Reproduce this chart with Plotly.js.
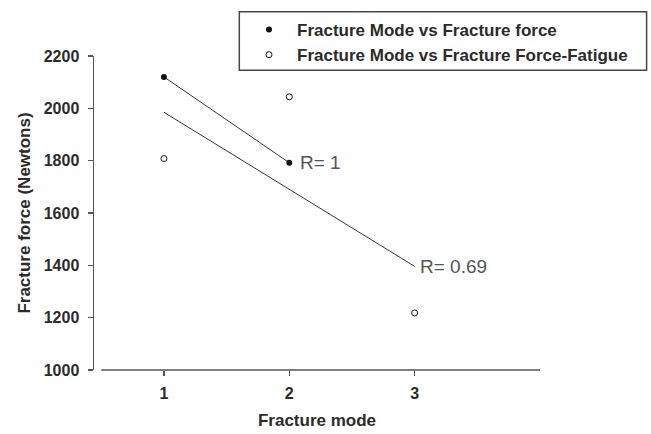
<!DOCTYPE html>
<html>
<head>
<meta charset="utf-8">
<script src="https://cdn.plot.ly/plotly-3.0.1.min.js"></script>
<style>html,body{margin:0;padding:0;background:#fff;}#chart{width:651px;height:434px;}</style>
</head>
<body>
<div id="chart"></div>
<script>
// Data
const modeTicks = [1, 2, 3];
const forceModes = [1, 2];
const forceValues = [2120, 1792];          // Fracture Mode vs Fracture force
const fatigueModes = [1, 2, 3];
const fatigueValues = [1808, 2044, 1218];  // Fracture Mode vs Fracture Force-Fatigue
const fitModes = [1, 3];
const fitValues = [1985, 1396];            // regression line of fatigue data
const rLabels = ['R= 1', 'R= 0.69'];
const seriesNames = ['Fracture Mode vs Fracture force', 'Fracture Mode vs Fracture Force-Fatigue'];

const FONT = 'Liberation Sans, Arial, sans-serif';
const dark = '#2b2b2b';
const axisCol = '#555';

const traces = [
  {x: forceModes, y: forceValues, mode: 'lines', line: {color: '#333', width: 1}, showlegend: false, hoverinfo: 'skip'},
  {x: fitModes, y: fitValues, mode: 'lines', line: {color: '#333', width: 1}, showlegend: false, hoverinfo: 'skip'},
  {x: forceModes, y: forceValues, mode: 'markers', name: seriesNames[0],
   marker: {symbol: 'circle', size: 6, color: '#111', line: {width: 0}}},
  {x: fatigueModes, y: fatigueValues, mode: 'markers', name: seriesNames[1],
   marker: {symbol: 'circle-open', size: 6, color: '#111', line: {width: 1, color: '#111'}}}
];

const layout = {
  width: 651, height: 434,
  margin: {l: 94, r: 111, t: 56, b: 64},
  paper_bgcolor: '#fff', plot_bgcolor: '#fff',
  font: {family: FONT, color: dark},
  showlegend: true,
  legend: {
    x: 0.3296, y: 1.14, xanchor: 'left', yanchor: 'top',
    bgcolor: 'rgba(0,0,0,0)', borderwidth: 0,
    itemwidth: 46,
    font: {family: FONT, size: 17, color: dark, weight: 'bold'},
    tracegroupgap: 0
  },
  xaxis: {
    range: [0.442, 4.0],
    tickvals: modeTicks, ticktext: modeTicks.map(String),
    ticks: 'outside', ticklen: 5, tickwidth: 1.5, tickcolor: axisCol,
    showline: false, showgrid: false, zeroline: false,
    ticklabelstandoff: 4,
    tickfont: {family: FONT, size: 16, color: dark, weight: 'bold'},
    title: {text: 'Fracture mode', standoff: 12, font: {family: FONT, size: 17, color: dark, weight: 'bold'}}
  },
  yaxis: {
    range: [1000, 2200],
    tickvals: [1000, 1200, 1400, 1600, 1800, 2000, 2200],
    ticks: 'outside', ticklen: 5, tickwidth: 1.5, tickcolor: axisCol,
    showline: true, linecolor: axisCol, linewidth: 1.5,
    showgrid: false, zeroline: false,
    ticklabelstandoff: 5,
    tickfont: {family: FONT, size: 16, color: dark, weight: 'bold'},
    title: {text: 'Fracture force (Newtons)', standoff: 9, font: {family: FONT, size: 17, color: dark, weight: 'bold'}}
  },
  shapes: [
    {type: 'line', xref: 'x', yref: 'paper', x0: 0.5, x1: 4.0, y0: 0, y1: 0,
     line: {color: axisCol, width: 1.5}},
    {type: 'rect', xref: 'paper', yref: 'paper', x0: 0.3258, x1: 1.239, y0: 0.955, y1: 1.141,
     line: {color: '#444', width: 1.5}, fillcolor: 'rgba(0,0,0,0)'}
  ],
  annotations: [
    {x: forceModes[1], y: forceValues[1], xref: 'x', yref: 'y', text: rLabels[0], showarrow: false,
     xanchor: 'left', yanchor: 'middle', xshift: 9, font: {family: FONT, size: 19, color: '#555'}},
    {x: fitModes[1], y: fitValues[1], xref: 'x', yref: 'y', text: rLabels[1], showarrow: false,
     xanchor: 'left', yanchor: 'middle', xshift: 3, font: {family: FONT, size: 19, color: '#555'}}
  ]
};

Plotly.newPlot('chart', traces, layout, {displayModeBar: false, staticPlot: true});
</script>
</body>
</html>
